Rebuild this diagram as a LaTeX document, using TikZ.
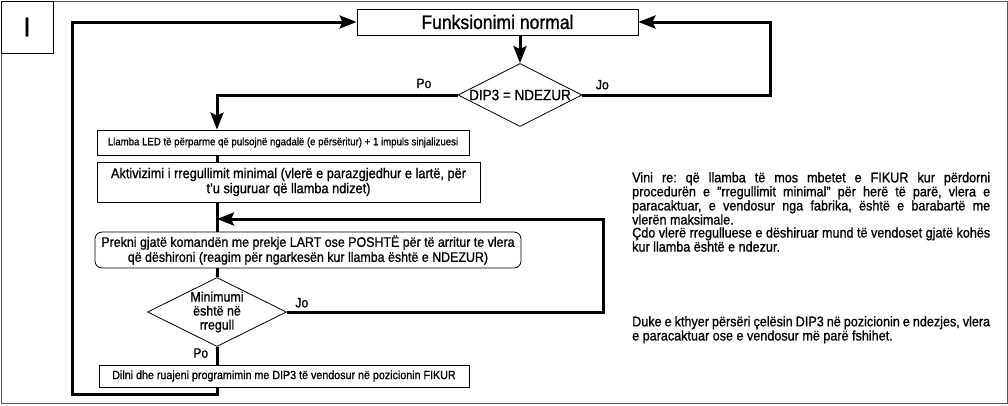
\documentclass[tikz,border=0pt]{standalone}
\usepackage{fontspec}
\setmainfont{Liberation Sans}[FakeStretch=0.9, FakeBold=1]
\usetikzlibrary{positioning,shapes.geometric,arrows.meta}
\newcommand{\sz}[2]{\fontsize{#1}{#2}\selectfont}

\begin{document}
\begin{tikzpicture}[x=1pt, y=-1pt,
  box/.style={draw, line width=0.8pt, inner sep=0pt, align=center},
  choice/.style={draw, diamond, aspect=2, line width=0.8pt, inner sep=0pt, align=center},
  flow/.style={line width=3pt},
  arr/.style={flow, -{Stealth[length=17pt, width=13pt, inset=3pt]}},
  lbl/.style={font=\sz{13.5}{14}},
  note/.style={text width=358pt, align=justify, inner sep=0pt, anchor=north west, font=\sz{14}{13}\frenchspacing}]
  \useasboundingbox (0,0) rectangle (1008,405);

  % Frame and tag
  \draw [gray!70!black, line width=0.8pt] (1,1) rectangle (1007,403);
  \node [box, minimum width=52pt, minimum height=52pt, font=\sz{27}{27}] (tag) at (27,27) {I};

  % Boxes and choices
  \node [box, minimum width=281pt, minimum height=26pt, font=\sz{19.5}{20}] (normal) at (497.5,22) {Funksionimi normal};
  \node [choice, minimum width=124pt, minimum height=63pt, font=\sz{15}{15}] (dip) at (520,95) {DIP3 = NDEZUR};
  \node [box, minimum width=372pt, minimum height=25pt, font=\sz{10.7}{12}] (led) at (283,142.5)
    {Llamba LED të përparme që pulsojnë ngadalë (e përsëritur) + 1 impuls sinjalizuesi};
  \node [box, minimum width=383pt, minimum height=40pt, font=\sz{14.2}{15}] (akt) at (288.5,182)
    {Aktivizimi i rregullimit minimal (vlerë e parazgjedhur e lartë, për\\t'u siguruar që llamba ndizet)};
  \node [box, rounded corners=7pt, minimum width=426pt, minimum height=36pt, font=\sz{13.8}{15}] (prek) at (308,250)
    {Prekni gjatë komandën me prekje LART ose POSHTË për të arritur te vlera\\që dëshironi (reagim për ngarkesën kur llamba është e NDEZUR)};
  \node [choice, minimum width=139pt, minimum height=69pt, font=\sz{13.8}{14}] (mini) at (217,312)
    {Minimumi\\është në\\rregull};
  \node [box, minimum width=370pt, minimum height=22pt, font=\sz{11.9}{12}] (dil) at (284,376)
    {Dilni dhe ruajeni programimin me DIP3 të vendosur në pozicionin FIKUR};

  % Corner points of the loops
  \coordinate (trunk) at (217,0);
  \coordinate (rjo) at (770,22);
  \coordinate (rmin) at (603,219);
  \coordinate (back) at (217,219);
  \coordinate (loop) at (72,394);

  % Main flow
  \draw [arr] (normal.south -| dip.north) -- (dip.north);
  \draw [arr] (dip.west) -| (led.north -| trunk) node [lbl, pos=0.07, above=2pt] {Po};
  \draw [arr] (dip.east) -| (rjo) -- (normal.east);
  \node [lbl, above right=2pt and 10pt of dip.east] (jotop) {Jo};
  \draw [flow] (led.south -| trunk) -- (akt.north -| trunk);
  \draw [flow] (akt.south -| trunk) -- (prek.north -| trunk);
  \draw [flow] (prek.south -| trunk) -- (mini.north);
  \draw [flow] (mini.south) -- (dil.north -| trunk) node [lbl, pos=0.35, left=4pt] {Po};
  \draw [arr] (mini.east) -| (rmin) -- (back);
  \node [lbl, above right=1pt and 5pt of mini.east] (jomin) {Jo};

  % Back to normal operation
  \draw [arr] (dil.south -| trunk) |- (loop) |- (normal.west);

  % Notes
  \node [note] (note1) at (632,172)
    {Vini re: që llamba të mos mbetet e FIKUR kur përdorni\linebreak
     procedurën e "rregullimit minimal" për herë të parë, vlera e\linebreak
     paracaktuar, e vendosur nga fabrika, është e barabartë me\linebreak
     vlerën maksimale.\\
     Çdo vlerë rregulluese e dëshiruar mund të vendoset gjatë kohës\linebreak
     kur llamba është e ndezur.};
  \node [note] (note2) at (632,316)
    {Duke e kthyer përsëri çelësin DIP3 në pozicionin e ndezjes, vlera\linebreak
     e paracaktuar ose e vendosur më parë fshihet.};
\end{tikzpicture}
\end{document}
